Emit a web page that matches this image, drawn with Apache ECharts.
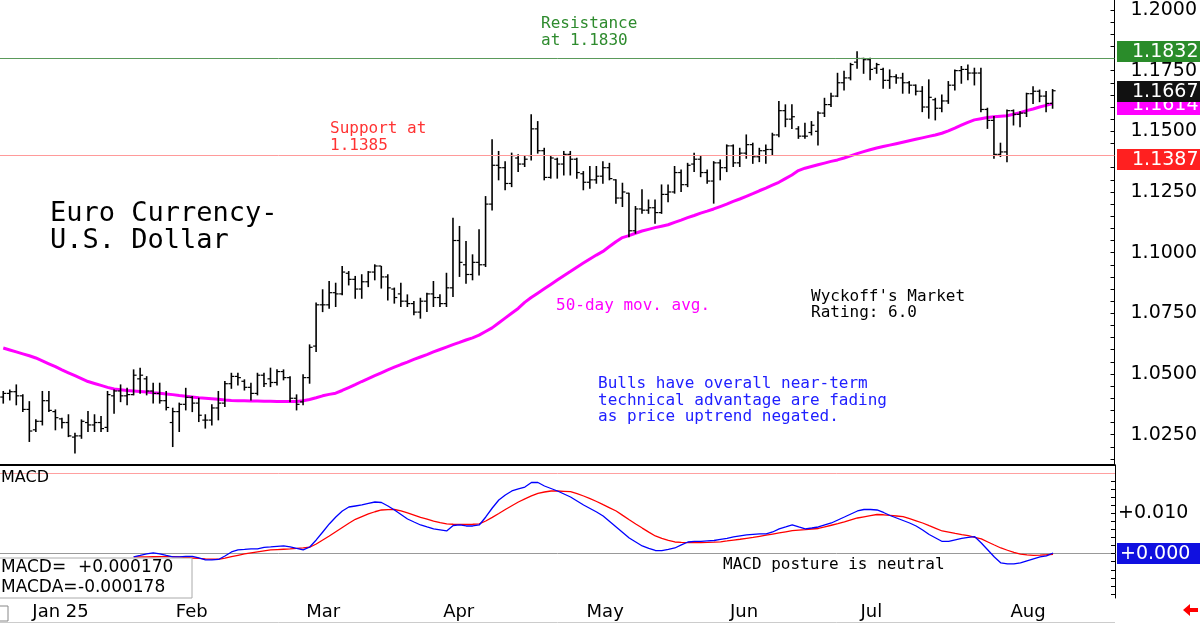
<!DOCTYPE html>
<html>
<head>
<meta charset="utf-8">
<script src="https://cdn.jsdelivr.net/npm/echarts@6/dist/echarts.min.js"></script>
<style>
  html, body { margin: 0; padding: 0; background: #fff; }
  #chart { width: 1200px; height: 624px; }
</style>
</head>
<body>
<div id="chart"></div>
<script>
// trading days shown on the chart: weekdays from Dec 26 2024, minus Jan 1 and Jun 19,
// padded with empty days after the last bar (Aug 12)
const skipDays = ['2025-01-01', '2025-06-19']
const dates = []
for (let d = new Date(Date.UTC(2024, 11, 26)); dates.length < 171; d.setUTCDate(d.getUTCDate() + 1)) {
  const wd = d.getUTCDay()
  const s = d.toISOString().slice(0, 10)
  if (wd === 0 || wd === 6 || skipDays.includes(s)) continue
  dates.push(s)
}
const monthNames = ['Jan', 'Feb', 'Mar', 'Apr', 'May', 'Jun', 'Jul', 'Aug', 'Sep', 'Oct', 'Nov', 'Dec']

const opens = [
  1.0405, 1.0420, 1.0427, 1.0410, 1.0354, 1.0270, 1.0305, 1.0390, 1.0345, 1.0315,
  1.0300, 1.0240, 1.0245, 1.0300, 1.0290, 1.0300, 1.0280, 1.0410, 1.0430, 1.0410,
  1.0415, 1.0480, 1.0480, 1.0430, 1.0420, 1.0390, 1.0300, 1.0345, 1.0375, 1.0404,
  1.0380, 1.0310, 1.0310, 1.0360, 1.0380, 1.0460, 1.0490, 1.0470, 1.0445, 1.0420,
  1.0495, 1.0480, 1.0465, 1.0510, 1.0485, 1.0400, 1.0385, 1.0485, 1.0615, 1.0785,
  1.0785, 1.0835, 1.0830, 1.0915, 1.0890, 1.0850, 1.0880, 1.0920, 1.0945, 1.0900,
  1.0850, 1.0830, 1.0800, 1.0790, 1.0755, 1.0800, 1.0830, 1.0815, 1.0790, 1.0855,
  1.1050, 1.0950, 1.0910, 1.0960, 1.0950, 1.1200, 1.1360, 1.1350, 1.1285, 1.1390,
  1.1365, 1.1400, 1.1510, 1.1420, 1.1310, 1.1385, 1.1365, 1.1405, 1.1385, 1.1325,
  1.1290, 1.1300, 1.1315, 1.1350, 1.1300, 1.1225, 1.1245, 1.1090, 1.1180, 1.1175,
  1.1185, 1.1165, 1.1240, 1.1250, 1.1330, 1.1280, 1.1365, 1.1385, 1.1330, 1.1295,
  1.1370, 1.1350, 1.1440, 1.1370, 1.1410, 1.1445, 1.1395, 1.1420, 1.1425, 1.1485,
  1.1585, 1.1550, 1.1510, 1.1480, 1.1495, 1.1500, 1.1575, 1.1610, 1.1645, 1.1700,
  1.1720, 1.1785, 1.1800, 1.1795, 1.1760, 1.1755, 1.1710, 1.1725, 1.1720, 1.1700,
  1.1690, 1.1665, 1.1600, 1.1630, 1.1595, 1.1625, 1.1690, 1.1750, 1.1755, 1.1740,
  1.1740, 1.1590, 1.1545, 1.1405, 1.1415, 1.1585, 1.1570, 1.1575, 1.1655, 1.1665,
  1.1645, 1.1615,
]
const highs = [
  1.0428, 1.0434, 1.0455, 1.0414, 1.0386, 1.0311, 1.0428, 1.0428, 1.0352, 1.0318,
  1.0332, 1.0256, 1.0311, 1.0345, 1.0332, 1.0325, 1.0428, 1.0434, 1.0455, 1.0441,
  1.0517, 1.0524, 1.0489, 1.0462, 1.0462, 1.0428, 1.0359, 1.0380, 1.0441, 1.0407,
  1.0400, 1.0332, 1.0373, 1.0428, 1.0469, 1.0503, 1.0503, 1.0476, 1.0462, 1.0503,
  1.0503, 1.0524, 1.0517, 1.0517, 1.0489, 1.0414, 1.0497, 1.0620, 1.0792, 1.0847,
  1.0881, 1.0874, 1.0943, 1.0922, 1.0902, 1.0909, 1.0922, 1.0950, 1.0943, 1.0909,
  1.0854, 1.0874, 1.0826, 1.0799, 1.0812, 1.0833, 1.0881, 1.0826, 1.0915, 1.1142,
  1.1108, 1.1046, 1.0991, 1.1094, 1.1231, 1.1465, 1.1417, 1.1375, 1.1410, 1.1403,
  1.1396, 1.1568, 1.1540, 1.1430, 1.1396, 1.1389, 1.1417, 1.1417, 1.1389, 1.1334,
  1.1355, 1.1355, 1.1375, 1.1368, 1.1300, 1.1286, 1.1245, 1.1190, 1.1259, 1.1217,
  1.1217, 1.1279, 1.1279, 1.1355, 1.1341, 1.1368, 1.1410, 1.1396, 1.1341, 1.1375,
  1.1382, 1.1444, 1.1444, 1.1430, 1.1485, 1.1451, 1.1430, 1.1444, 1.1492, 1.1623,
  1.1609, 1.1609, 1.1519, 1.1533, 1.1540, 1.1581, 1.1636, 1.1657, 1.1739, 1.1747,
  1.1780, 1.1828, 1.1801, 1.1801, 1.1780, 1.1760, 1.1753, 1.1733, 1.1739, 1.1705,
  1.1691, 1.1684, 1.1712, 1.1636, 1.1650, 1.1705, 1.1753, 1.1767, 1.1773, 1.1760,
  1.1760, 1.1595, 1.1561, 1.1451, 1.1588, 1.1588, 1.1581, 1.1657, 1.1684, 1.1670,
  1.1664, 1.1672,
]
const lows = [
  1.0380, 1.0393, 1.0373, 1.0345, 1.0222, 1.0263, 1.0290, 1.0345, 1.0270, 1.0277,
  1.0242, 1.0174, 1.0235, 1.0263, 1.0263, 1.0263, 1.0263, 1.0338, 1.0386, 1.0373,
  1.0414, 1.0421, 1.0414, 1.0380, 1.0380, 1.0352, 1.0201, 1.0263, 1.0352, 1.0345,
  1.0304, 1.0277, 1.0290, 1.0311, 1.0366, 1.0441, 1.0455, 1.0434, 1.0393, 1.0414,
  1.0448, 1.0448, 1.0455, 1.0476, 1.0386, 1.0352, 1.0373, 1.0462, 1.0593, 1.0757,
  1.0771, 1.0778, 1.0826, 1.0867, 1.0812, 1.0812, 1.0860, 1.0888, 1.0854, 1.0805,
  1.0792, 1.0778, 1.0778, 1.0744, 1.0730, 1.0757, 1.0778, 1.0778, 1.0778, 1.0819,
  1.0902, 1.0874, 1.0888, 1.0908, 1.0943, 1.1176, 1.1300, 1.1259, 1.1272, 1.1334,
  1.1355, 1.1382, 1.1410, 1.1300, 1.1307, 1.1307, 1.1320, 1.1320, 1.1307, 1.1259,
  1.1265, 1.1286, 1.1286, 1.1300, 1.1204, 1.1190, 1.1066, 1.1080, 1.1162, 1.1162,
  1.1121, 1.1162, 1.1210, 1.1245, 1.1252, 1.1272, 1.1334, 1.1313, 1.1286, 1.1204,
  1.1300, 1.1334, 1.1355, 1.1355, 1.1389, 1.1368, 1.1375, 1.1368, 1.1403, 1.1478,
  1.1519, 1.1512, 1.1471, 1.1471, 1.1485, 1.1444, 1.1561, 1.1602, 1.1643, 1.1670,
  1.1712, 1.1760, 1.1739, 1.1712, 1.1739, 1.1677, 1.1677, 1.1698, 1.1657, 1.1657,
  1.1650, 1.1581, 1.1554, 1.1547, 1.1581, 1.1615, 1.1670, 1.1698, 1.1712, 1.1691,
  1.1581, 1.1512, 1.1389, 1.1396, 1.1375, 1.1526, 1.1519, 1.1561, 1.1615, 1.1622,
  1.1581, 1.1595,
]
const closes = [
  1.0420, 1.0427, 1.0410, 1.0354, 1.0265, 1.0305, 1.0390, 1.0350, 1.0320, 1.0300,
  1.0245, 1.0245, 1.0305, 1.0290, 1.0300, 1.0275, 1.0415, 1.0430, 1.0410, 1.0415,
  1.0495, 1.0495, 1.0430, 1.0420, 1.0390, 1.0362, 1.0345, 1.0375, 1.0404, 1.0380,
  1.0330, 1.0310, 1.0360, 1.0380, 1.0460, 1.0490, 1.0485, 1.0445, 1.0420, 1.0495,
  1.0460, 1.0465, 1.0510, 1.0485, 1.0400, 1.0375, 1.0485, 1.0610, 1.0785, 1.0785,
  1.0835, 1.0830, 1.0920, 1.0890, 1.0850, 1.0880, 1.0920, 1.0945, 1.0900, 1.0855,
  1.0815, 1.0800, 1.0790, 1.0755, 1.0800, 1.0830, 1.0815, 1.0790, 1.0855, 1.1050,
  1.0960, 1.0910, 1.0960, 1.0950, 1.1200, 1.1360, 1.1350, 1.1285, 1.1400, 1.1365,
  1.1385, 1.1510, 1.1420, 1.1310, 1.1390, 1.1365, 1.1405, 1.1385, 1.1330, 1.1290,
  1.1300, 1.1315, 1.1350, 1.1305, 1.1225, 1.1250, 1.1090, 1.1180, 1.1175, 1.1185,
  1.1165, 1.1240, 1.1250, 1.1330, 1.1280, 1.1360, 1.1385, 1.1330, 1.1295, 1.1370,
  1.1350, 1.1440, 1.1370, 1.1410, 1.1445, 1.1395, 1.1420, 1.1425, 1.1485, 1.1585,
  1.1550, 1.1560, 1.1480, 1.1480, 1.1525, 1.1575, 1.1610, 1.1645, 1.1700, 1.1720,
  1.1775, 1.1800, 1.1795, 1.1755, 1.1775, 1.1710, 1.1725, 1.1720, 1.1700, 1.1690,
  1.1665, 1.1600, 1.1640, 1.1595, 1.1625, 1.1690, 1.1750, 1.1755, 1.1740, 1.1740,
  1.1590, 1.1545, 1.1405, 1.1415, 1.1585, 1.1570, 1.1575, 1.1655, 1.1665, 1.1645,
  1.1615, 1.1667,
]
const ma50 = [
  1.0607, 1.0599, 1.0591, 1.0583, 1.0575, 1.0566, 1.0554, 1.0542, 1.0530, 1.0517,
  1.0505, 1.0493, 1.0481, 1.0469, 1.0461, 1.0453, 1.0445, 1.0438, 1.0435, 1.0432,
  1.0430, 1.0428, 1.0426, 1.0423, 1.0421, 1.0418, 1.0415, 1.0411, 1.0408, 1.0405,
  1.0402, 1.0400, 1.0398, 1.0396, 1.0393, 1.0391, 1.0390, 1.0390, 1.0389, 1.0389,
  1.0388, 1.0388, 1.0387, 1.0387, 1.0387, 1.0387, 1.0390, 1.0395, 1.0402, 1.0410,
  1.0416, 1.0421, 1.0432, 1.0444, 1.0456, 1.0469, 1.0481, 1.0493, 1.0505, 1.0517,
  1.0528, 1.0539, 1.0549, 1.0560, 1.0570, 1.0580, 1.0591, 1.0601, 1.0611, 1.0621,
  1.0630, 1.0640, 1.0649, 1.0660, 1.0675, 1.0690, 1.0710, 1.0730, 1.0750, 1.0770,
  1.0795, 1.0815, 1.0833, 1.0851, 1.0869, 1.0887, 1.0905, 1.0922, 1.0940, 1.0957,
  1.0974, 1.0990, 1.1005, 1.1025, 1.1045, 1.1062, 1.1070, 1.1080, 1.1089, 1.1096,
  1.1103, 1.1109, 1.1115, 1.1125, 1.1134, 1.1144, 1.1153, 1.1163, 1.1171, 1.1180,
  1.1190, 1.1200, 1.1211, 1.1221, 1.1232, 1.1243, 1.1255, 1.1266, 1.1278, 1.1290,
  1.1305, 1.1320, 1.1338, 1.1348, 1.1355, 1.1362, 1.1369, 1.1376, 1.1382, 1.1390,
  1.1399, 1.1408, 1.1416, 1.1424, 1.1431, 1.1437, 1.1443, 1.1449, 1.1455, 1.1461,
  1.1467, 1.1473, 1.1479, 1.1485, 1.1492, 1.1502, 1.1513, 1.1525, 1.1537, 1.1547,
  1.1552, 1.1557, 1.1560, 1.1562, 1.1564, 1.1570, 1.1577, 1.1585, 1.1592, 1.1600,
  1.1607, 1.1614,
]

// MACD lines begin at bar 20
const macdStart = 20
const macd = [
  -0.00082, -0.00045, -0.00007, 0.00017, -0.00007, -0.00045, -0.00082, -0.00082, -0.00069, -0.00069,
  -0.00107, -0.00156, -0.00156, -0.00144, -0.00057, 0.00042, 0.00092, 0.00104, 0.00117, 0.00117,
  0.00154, 0.00166, 0.00179, 0.00191, 0.00166, 0.00129, 0.00092, 0.00166, 0.00340, 0.00538,
  0.00737, 0.00910, 0.01059, 0.01158, 0.01183, 0.01208, 0.01245, 0.01282, 0.01270, 0.01183,
  0.01084, 0.00972, 0.00861, 0.00786, 0.00712, 0.00662, 0.00613, 0.00588, 0.00563, 0.00699,
  0.00712, 0.00687, 0.00687, 0.00712, 0.00910, 0.01133, 0.01332, 0.01456, 0.01555, 0.01605,
  0.01654, 0.01766, 0.01766, 0.01679, 0.01617, 0.01555, 0.01481, 0.01406, 0.01307, 0.01208,
  0.01121, 0.01034, 0.00935, 0.00799, 0.00662, 0.00526, 0.00389, 0.00290, 0.00191, 0.00129,
  0.00079, 0.00074, 0.00104, 0.00141, 0.00216, 0.00290, 0.00303, 0.00303, 0.00315, 0.00327,
  0.00352, 0.00377, 0.00414, 0.00439, 0.00464, 0.00481, 0.00489, 0.00489, 0.00538, 0.00613,
  0.00662, 0.00712, 0.00662, 0.00613, 0.00637, 0.00662, 0.00712, 0.00761, 0.00836, 0.00910,
  0.00985, 0.01059, 0.01096, 0.01096, 0.01084, 0.01022, 0.00947, 0.00885, 0.00823, 0.00761,
  0.00687, 0.00588, 0.00476, 0.00389, 0.00303, 0.00303, 0.00340, 0.00377, 0.00402, 0.00422,
  0.00265, 0.00092, -0.00082, -0.00231, -0.00255, -0.00255, -0.00231, -0.00181, -0.00131, -0.00082,
  -0.00057, 0.000170,
]
const macdAvg = [
  -0.00082, -0.00080, -0.00078, -0.00076, -0.00075, -0.00074, -0.00074, -0.00082, -0.00095, -0.00107,
  -0.00118, -0.00128, -0.00135, -0.00139, -0.00110, -0.00075, -0.00040, -0.00007, 0.00020, 0.00045,
  0.00070, 0.00092, 0.00101, 0.00109, 0.00117, 0.00130, 0.00144, 0.00159, 0.00240, 0.00340,
  0.00439, 0.00545, 0.00650, 0.00755, 0.00853, 0.00920, 0.00985, 0.01040, 0.01084, 0.01094,
  0.01096, 0.01060, 0.01010, 0.00955, 0.00898, 0.00855, 0.00810, 0.00770, 0.00737, 0.00730,
  0.00728, 0.00728, 0.00730, 0.00737, 0.00810, 0.00900, 0.00997, 0.01095, 0.01190, 0.01282,
  0.01360, 0.01432, 0.01498, 0.01530, 0.01555, 0.01555, 0.01548, 0.01538, 0.01488, 0.01431,
  0.01365, 0.01295, 0.01215, 0.01138, 0.01059, 0.00950, 0.00842, 0.00737, 0.00635, 0.00535,
  0.00439, 0.00380, 0.00330, 0.00290, 0.00280, 0.00275, 0.00273, 0.00273, 0.00278, 0.00286,
  0.00295, 0.00315, 0.00337, 0.00358, 0.00380, 0.00402, 0.00430, 0.00458, 0.00486, 0.00514,
  0.00542, 0.00570, 0.00585, 0.00598, 0.00612, 0.00625, 0.00665, 0.00705, 0.00744, 0.00790,
  0.00838, 0.00885, 0.00915, 0.00945, 0.00972, 0.00965, 0.00952, 0.00935, 0.00918, 0.00868,
  0.00815, 0.00761, 0.00695, 0.00630, 0.00563, 0.00533, 0.00503, 0.00474, 0.00446, 0.00405,
  0.00365, 0.00290, 0.00215, 0.00141, 0.00085, 0.00030, -0.00010, -0.00030, -0.00040, -0.00035,
  -0.00027, -0.000178,
]

const priceTicks = [1.025, 1.05, 1.075, 1.1, 1.125, 1.15, 1.175, 1.2]
const macdTicks = [0.01]
const resistance = 1.1832
const support = 1.1387
const macdRefLine = 0.02

const priceMinor = []
for (let v = 1.015; v < 1.2041; v += 0.005) priceMinor.push(+v.toFixed(4))
const macdMinor = []
for (let v = -0.01; v < 0.0215; v += 0.002) macdMinor.push(+v.toFixed(4))

const ohlc = opens.map((o, i) => [i, o, closes[i], lows[i], highs[i]])
const pad = n => new Array(n).fill(null)
const macdData = pad(macdStart).concat(macd)
const macdAvgData = pad(macdStart).concat(macdAvg)

const lastClose = closes[closes.length - 1]
const lastMa = ma50[ma50.length - 1]
const lastMacd = macd[macd.length - 1]
const lastMacdAvg = macdAvg[macdAvg.length - 1]

const NUM_FONT = 'DejaVu Sans'
const MONO = '"DejaVu Sans Mono"'

function isMonthStart(i) {
  return i > 0 && dates[i].slice(5, 7) !== dates[i - 1].slice(5, 7)
}
function monthLabel(value) {
  const m = +value.slice(5, 7) - 1
  return m === 0 ? 'Jan 25' : monthNames[m]
}

function renderBar(params, api) {
  const i = api.value(0)
  const o = api.coord([i, api.value(1)])
  const c = api.coord([i, api.value(2)])
  const lo = api.coord([i, api.value(3)])
  const hi = api.coord([i, api.value(4)])
  const tickStyle = { stroke: '#000', lineWidth: 1.2 }
  return {
    type: 'group',
    children: [
      { type: 'line', shape: { x1: hi[0], y1: hi[1] - 0.5, x2: lo[0], y2: lo[1] + 0.5 }, style: { stroke: '#000', lineWidth: 1.6 } },
      { type: 'line', shape: { x1: o[0] - 3, y1: o[1], x2: o[0], y2: o[1] }, style: tickStyle },
      { type: 'line', shape: { x1: c[0], y1: c[1], x2: c[0] + 3, y2: c[1] }, style: tickStyle },
    ],
  }
}

function refLine(value, color) {
  return { yAxis: value, lineStyle: { color, width: 1, type: 'solid' }, label: { show: false } }
}

function txt(text, x, y, color, size, family) {
  return {
    type: 'text', x, y, z: 100,
    style: { text, fill: color, font: size + 'px ' + family, verticalAlign: 'middle', align: 'left' },
  }
}

const chart = echarts.init(document.getElementById('chart'))
const signed = (v, d) => (v >= 0 ? '+' : '-') + Math.abs(v).toFixed(d)

chart.setOption({
  animation: false,
  backgroundColor: '#fff',
  grid: [
    { left: -2.4, right: 85, top: 0, height: 465 },
    { left: -2.4, right: 85, top: 465, height: 133 },
  ],
  xAxis: [
    {
      type: 'category', gridIndex: 0, data: dates,
      axisLine: { lineStyle: { color: '#000', width: 2 } },
      axisTick: { show: false }, axisLabel: { show: false }, splitLine: { show: false },
    },
    {
      type: 'category', gridIndex: 1, data: dates,
      axisLine: { lineStyle: { color: '#999', width: 1 } },
      axisTick: { alignWithLabel: true, interval: isMonthStart, length: 24, lineStyle: { color: '#999' } },
      axisLabel: {
        interval: isMonthStart, formatter: monthLabel, align: 'left', margin: 5,
        padding: [0, 0, 0, 3], color: '#000', fontFamily: NUM_FONT, fontSize: 18,
      },
      splitLine: { show: false },
    },
  ],
  yAxis: [
    {
      type: 'value', gridIndex: 0, position: 'right', min: 1.0125, max: 1.2041,
      axisLine: { show: true, lineStyle: { color: '#000', width: 1 } },
      axisTick: { show: true, inside: true, length: 4, customValues: priceMinor, lineStyle: { color: '#000' } },
      axisLabel: {
        customValues: priceTicks, formatter: v => v.toFixed(4), margin: 16,
        color: '#000', fontFamily: NUM_FONT, fontSize: 19,
      },
      splitLine: { show: false },
    },
    {
      type: 'value', gridIndex: 1, position: 'right', min: -0.011, max: 0.022,
      axisLine: { show: true, lineStyle: { color: '#000', width: 1 } },
      axisTick: { show: true, inside: true, length: 4, customValues: macdMinor, lineStyle: { color: '#000' } },
      axisLabel: {
        customValues: macdTicks, formatter: v => signed(v, 3), margin: 3,
        color: '#000', fontFamily: NUM_FONT, fontSize: 19,
      },
      splitLine: { show: false },
    },
  ],
  series: [
    {
      type: 'line', name: '50-day', xAxisIndex: 0, yAxisIndex: 0, data: ma50,
      symbol: 'none', lineStyle: { color: '#ff00ff', width: 3 }, z: 2,
      markLine: {
        silent: true, symbol: 'none', animation: false,
        data: [refLine(resistance, '#5a9a5a'), refLine(support, '#ff9a9a')],
      },
    },
    {
      type: 'custom', name: 'Euro', xAxisIndex: 0, yAxisIndex: 0, data: ohlc,
      renderItem: renderBar, encode: { x: 0, y: [1, 2, 3, 4] }, z: 3,
    },
    {
      type: 'line', name: 'MACDA', xAxisIndex: 1, yAxisIndex: 1, data: macdAvgData,
      symbol: 'none', lineStyle: { color: '#ff0000', width: 1.3 }, z: 2,
      markLine: {
        silent: true, symbol: 'none', animation: false,
        data: [refLine(macdRefLine, '#ffa0a0')],
      },
    },
    {
      type: 'line', name: 'MACD', xAxisIndex: 1, yAxisIndex: 1, data: macdData,
      symbol: 'none', lineStyle: { color: '#0000ff', width: 1.3 }, z: 3,
    },
  ],
})

// value tags on the right axis, placed through the axis scales
function valueTag(yAxisIndex, value, text, bg, padLeft, z) {
  const y = chart.convertToPixel({ yAxisIndex }, value)
  return {
    type: 'group', x: 1117, y: Math.round(y) - 10,
    children: [
      { type: 'rect', z, shape: { x: 0, y: 0, width: 83, height: 21 }, style: { fill: bg } },
      {
        type: 'text', z: z + 1, x: padLeft, y: 11,
        style: { text, fill: '#fff', font: '19px "DejaVu Sans"', verticalAlign: 'middle', align: 'left' },
      },
    ],
  }
}

chart.setOption({
  graphic: [
    txt('Resistance', 541, 24, '#2e8b2e', 16, MONO),
    txt('at 1.1830', 541, 41, '#2e8b2e', 16, MONO),
    txt('Support at', 330, 129, '#ff3333', 16, MONO),
    txt('1.1385', 330, 146, '#ff3333', 16, MONO),
    txt('Euro Currency-', 50, 214, '#000', 27, MONO),
    txt('U.S. Dollar', 50, 241, '#000', 27, MONO),
    txt('50-day mov. avg.', 556, 306, '#ff00ff', 16, MONO),
    txt("Wyckoff's Market", 811, 297, '#000', 16, MONO),
    txt('Rating: 6.0', 811, 313, '#000', 16, MONO),
    txt('Bulls have overall near-term', 598, 384, '#2020ff', 16, MONO),
    txt('technical advantage are fading', 598, 401, '#2020ff', 16, MONO),
    txt('as price uptrend negated.', 598, 417, '#2020ff', 16, MONO),
    txt('MACD posture is neutral', 723, 565, '#000', 16, MONO),
    txt('MACD', 1, 478, '#000', 16, NUM_FONT),
    {
      type: 'rect', z: 99, shape: { x: -1, y: 558, width: 193, height: 40 },
      style: { fill: '#fff', stroke: '#aaa', lineWidth: 1 },
    },
    txt('MACD=', 1, 568, '#000', 17, NUM_FONT),
    txt(signed(lastMacd, 6), 78, 568, '#000', 17, NUM_FONT),
    txt('MACDA=', 1, 588, '#000', 17, NUM_FONT),
    txt(signed(lastMacdAvg, 6), 78, 588, '#000', 17, NUM_FONT),
    {
      type: 'rect', z: 99, shape: { x: -1, y: 606, width: 9, height: 15 },
      style: { fill: 'none', stroke: '#888', lineWidth: 1 },
    },
    {
      type: 'line', z: 99, shape: { x1: 0, y1: 622.5, x2: 1115, y2: 622.5 },
      style: { stroke: '#ccc', lineWidth: 1 },
    },
    {
      type: 'polygon', z: 99,
      shape: { points: [[1183, 610], [1190, 604], [1190, 608], [1198, 608], [1198, 612], [1190, 612], [1190, 616]] },
      style: { fill: '#ff0000' },
    },
    valueTag(0, resistance, resistance.toFixed(4), '#2a8c2a', 15, 150),
    valueTag(0, support, support.toFixed(4), '#ff2020', 15, 150),
    valueTag(0, lastMa, lastMa.toFixed(4), '#ff00ff', 15, 150),
    valueTag(0, lastClose, lastClose.toFixed(4), '#111', 15, 160),
    valueTag(1, lastMacd, signed(lastMacd, 3), '#1010e0', 3, 150),
  ],
})
</script>
</body>
</html>
